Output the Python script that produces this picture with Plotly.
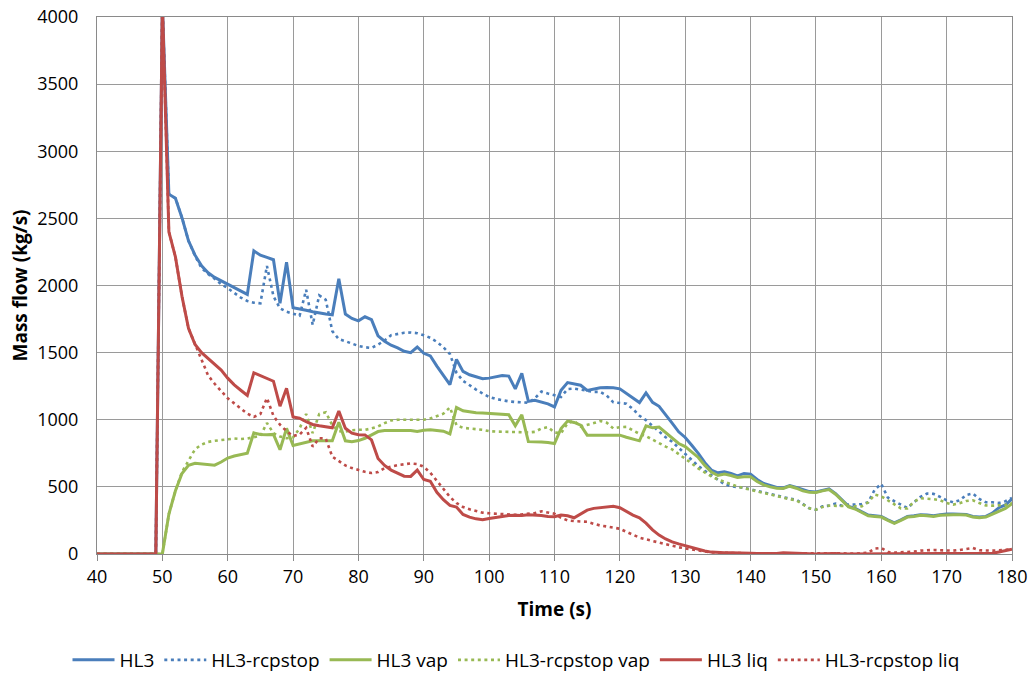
import plotly.graph_objects as go

# Time axis (s)
time_s = [40, 49, 50, 51, 52, 53, 54, 55, 56, 57, 58, 59,
          60, 61, 62, 63, 64, 65, 66, 67, 68, 69,
          70, 71, 72, 73, 74, 75, 76, 77, 78, 79,
          80, 81, 82, 83, 84, 85, 86, 87, 88, 89,
          90, 91, 92, 93, 94, 95, 96, 97, 98, 99,
          100, 101, 102, 103, 104, 105, 106, 107, 108, 109,
          110, 111, 112, 113, 114, 115, 116, 117, 118, 119,
          120, 121, 122, 123, 124, 125, 126, 127, 128, 129,
          130, 131, 132, 133, 134, 135, 136, 137, 138, 139,
          140, 141, 142, 143, 144, 145, 146, 147, 148, 149,
          150, 151, 152, 153, 154, 155, 156, 157, 158, 159,
          160, 161, 162, 163, 164, 165, 166, 167, 168, 169,
          170, 171, 172, 173, 174, 175, 176, 177, 178, 179,
          180]

hl3 = [0, 0, 4100, 2680, 2650, 2505, 2333, 2226, 2146, 2095, 2060, 2035,
       2010, 1985, 1960, 1934, 2258, 2226, 2210, 2192, 1867, 2173,
       1835, 1827, 1815, 1805, 1795, 1788, 1782, 2050, 1787, 1755,
       1737, 1767, 1745, 1625, 1585, 1555, 1535, 1510, 1500, 1542,
       1495, 1475, 1400, 1330, 1262, 1450, 1360, 1335, 1320, 1305,
       1310, 1318, 1330, 1325, 1230, 1345, 1137, 1145, 1130, 1118,
       1096, 1220, 1277, 1265, 1257, 1218, 1230, 1238, 1240, 1238,
       1230, 1195, 1160, 1128, 1200, 1130, 1100, 1040, 975, 910,
       868, 810, 750, 680, 625, 605, 612, 600, 582, 600,
       595, 555, 525, 510, 495, 492, 510, 495, 478, 465,
       462, 475, 485, 450, 400, 355, 340, 315, 290, 285,
       280, 255, 232, 255, 280, 285, 292, 290, 285, 292,
       298, 298, 298, 295, 280, 275, 280, 305, 345, 365,
       410]

hl3_rcpstop = [0, 0, 4100, 2680, 2650, 2505, 2333, 2220, 2130, 2085, 2050, 2010,
               1980, 1947, 1910, 1885, 1872, 1867, 2146, 1920, 1830, 1805,
               1790, 1775, 1968, 1707, 1926, 1894, 1660, 1600, 1585, 1565,
               1550, 1540, 1535, 1560, 1590, 1630, 1640, 1648, 1650, 1645,
               1630, 1610, 1580, 1540, 1490, 1350, 1290, 1255, 1225, 1195,
               1170, 1155, 1145, 1137, 1132, 1130, 1127, 1160, 1210, 1195,
               1180, 1170, 1228, 1232, 1225, 1215, 1208, 1208, 1180, 1130,
               1125, 1120, 1080, 1030, 997, 955, 910, 870, 836, 790,
               745, 700, 655, 620, 585, 550, 520, 505, 500, 492,
               482, 470, 455, 445, 432, 422, 412, 405, 375, 340,
               330, 355, 360, 375, 360, 368, 368, 372, 385, 480,
               522, 420, 393, 365, 343, 385, 425, 450, 448, 425,
               400, 385, 400, 440, 450, 410, 385, 385, 380, 393,
               418]

hl3_vap = [0, 0, 0, 298, 471, 600, 660, 676, 672, 665, 662, 685,
           715, 730, 742, 750, 902, 890, 888, 891, 777, 936,
           809, 822, 835, 843, 843, 843, 843, 981, 843, 837,
           845, 862, 887, 912, 920, 920, 920, 920, 920, 912,
           922, 925, 922, 915, 895, 1092, 1067, 1058, 1052, 1050,
           1048, 1045, 1040, 1037, 955, 1037, 837, 837, 835, 830,
           823, 935, 990, 980, 960, 885, 885, 885, 885, 885,
           885, 870, 855, 843, 955, 940, 945, 905, 860, 823,
           800, 760, 719, 660, 610, 585, 595, 585, 570, 575,
           575, 540, 515, 500, 490, 488, 505, 490, 470, 460,
           458, 470, 480, 445, 395, 350, 335, 310, 285, 280,
           275, 250, 228, 250, 275, 280, 288, 285, 280, 288,
           292, 292, 292, 290, 275, 270, 275, 295, 320, 340,
           375]

hl3_rcpstop_vap = [0, 0, 0, 298, 471, 610, 700, 780, 815, 835, 843, 850,
                   858, 860, 856, 860, 870, 880, 976, 900, 875, 862,
                   868, 936, 1043, 900, 1043, 1056, 960, 915, 912, 922,
                   925, 925, 935, 950, 975, 995, 1000, 1000, 997, 995,
                   1000, 1010, 1025, 1045, 1092, 960, 940, 933, 930, 925,
                   915, 912, 912, 910, 907, 907, 905, 910, 935, 945,
                   905, 900, 975, 992, 950, 960, 975, 990, 978, 935,
                   945, 947, 920, 895, 878, 850, 823, 800, 779, 745,
                   712, 675, 637, 605, 578, 555, 540, 520, 502, 490,
                   481, 468, 452, 440, 432, 420, 408, 400, 370, 340,
                   330, 350, 360, 360, 360, 360, 358, 355, 385, 442,
                   430, 400, 368, 340, 340, 390, 415, 412, 408, 400,
                   380, 368, 378, 395, 400, 380, 362, 360, 360, 365,
                   380]

hl3_liq = [0, 0, 4100, 2400, 2213, 1920, 1681, 1561, 1500, 1455, 1410, 1370,
           1310, 1260, 1220, 1181, 1349, 1330, 1310, 1287, 1101, 1234,
           1021, 1011, 985, 965, 955, 948, 940, 1064, 937, 900,
           888, 887, 850, 712, 660, 625, 600, 580, 578, 625,
           555, 542, 460, 405, 362, 350, 295, 275, 262, 255,
           265, 272, 280, 287, 288, 287, 292, 290, 287, 280,
           278, 290, 285, 270, 300, 327, 340, 345, 345, 355,
           345, 318, 290, 270, 230, 180, 141, 112, 90, 75,
           62, 50, 32, 22, 14, 10, 10, 10, 10, 8,
           5, 3, 2, 0, 3, 10, 8, 5, 3, 0,
           0, 2, 5, 3, 0, 0, 0, 0, 0, 0,
           0, 0, 0, 0, 0, 0, 0, 0, 0, 0,
           0, 0, 0, 0, 0, 0, 2, 5, 15, 25,
           35]

hl3_rcpstop_liq = [0, 0, 4100, 2400, 2213, 1920, 1681, 1560, 1440, 1330, 1268, 1210,
                   1160, 1122, 1080, 1045, 1021, 1043, 1162, 1029, 963, 915,
                   880, 890, 940, 800, 862, 860, 725, 690, 660, 640,
                   625, 612, 603, 610, 640, 652, 662, 668, 675, 670,
                   650, 605, 545, 480, 425, 380, 350, 333, 320, 308,
                   303, 300, 298, 295, 292, 295, 300, 305, 318, 310,
                   300, 270, 250, 245, 245, 240, 225, 212, 205, 195,
                   188, 165, 145, 122, 109, 97, 84, 70, 60, 50,
                   42, 34, 26, 17, 12, 10, 8, 8, 6, 5,
                   5, 5, 5, 5, 5, 5, 5, 5, 5, 5,
                   8, 10, 10, 8, 5, 3, 3, 5, 10, 40,
                   45, 15, 10, 12, 15, 18, 25, 30, 30, 28,
                   25, 25, 30, 35, 45, 28, 25, 25, 28, 32,
                   35]

series_names = ["HL3", "HL3-rcpstop", "HL3 vap", "HL3-rcpstop vap", "HL3 liq", "HL3-rcpstop liq"]
series_values = [hl3, hl3_rcpstop, hl3_vap, hl3_rcpstop_vap, hl3_liq, hl3_rcpstop_liq]
series_colors = ["#4A7EBB", "#4A7EBB", "#98B954", "#98B954", "#BE4B48", "#BE4B48"]
series_dotted = [False, True, False, True, False, True]

FONT = "'Open Sans', Lato, sans-serif"

fig = go.Figure()
for name, vals, col, dotted in zip(series_names, series_values, series_colors, series_dotted):
    fig.add_trace(go.Scatter(
        x=time_s, y=vals, name=name, mode="lines",
        line=dict(color=col, width=2.6 if dotted else 3,
                  dash="3px,3.6px" if dotted else "solid"),
    ))

grid_col = "#9A9A9A"
axis_col = "#8A8A8A"

fig.update_layout(
    width=1032, height=675,
    margin=dict(l=97, r=20, t=17, b=121, autoexpand=False),
    paper_bgcolor="white", plot_bgcolor="white",
    font=dict(family=FONT, size=18, color="#000000"),
    showlegend=True,
    legend=dict(orientation="h", x=0.5, xanchor="center", xref="container",
                y=1 - 660 / 675, yanchor="middle", yref="container",
                font=dict(family=FONT, size=19, color="#000000"),
                itemwidth=42, bgcolor="rgba(0,0,0,0)"),
    xaxis=dict(
        range=[40, 180], tick0=40, dtick=10, automargin=True,
        showgrid=True, gridcolor=grid_col, gridwidth=1,
        showline=True, linecolor=axis_col, linewidth=1, mirror=True,
        ticks="outside", ticklen=6, tickcolor=axis_col,
        zeroline=False,
        tickfont=dict(family=FONT, size=18, color="#000000"),
        title=dict(text="Time (s)", standoff=16,
                   font=dict(family=FONT, size=19, color="#000000", weight="bold")),
    ),
    # main y axis: labels pushed out by an invisible (white) longer tick
    yaxis=dict(
        range=[0, 4000], tick0=0, dtick=500, automargin=False,
        showgrid=True, gridcolor=grid_col, gridwidth=1,
        showline=True, linecolor=axis_col, linewidth=1, mirror=True,
        ticks="outside", ticklen=14, tickcolor="white",
        zeroline=False,
        tickfont=dict(family=FONT, size=18, color="#000000"),
    ),
    # overlay y axis that only draws the short grey tick marks
    yaxis2=dict(
        range=[0, 4000], tick0=0, dtick=500, overlaying="y", side="left",
        showgrid=False, showline=False, zeroline=False, showticklabels=False,
        ticks="outside", ticklen=6, tickcolor=axis_col, automargin=False,
    ),
    annotations=[dict(
        text="Mass flow (kg/s)", textangle=-90, showarrow=False,
        xref="paper", yref="paper", x=(19 - 97) / 915, y=0.5,
        xanchor="center", yanchor="middle",
        font=dict(family=FONT, size=19, color="#000000", weight="bold"),
    )],
)

fig.write_html("out.html")
